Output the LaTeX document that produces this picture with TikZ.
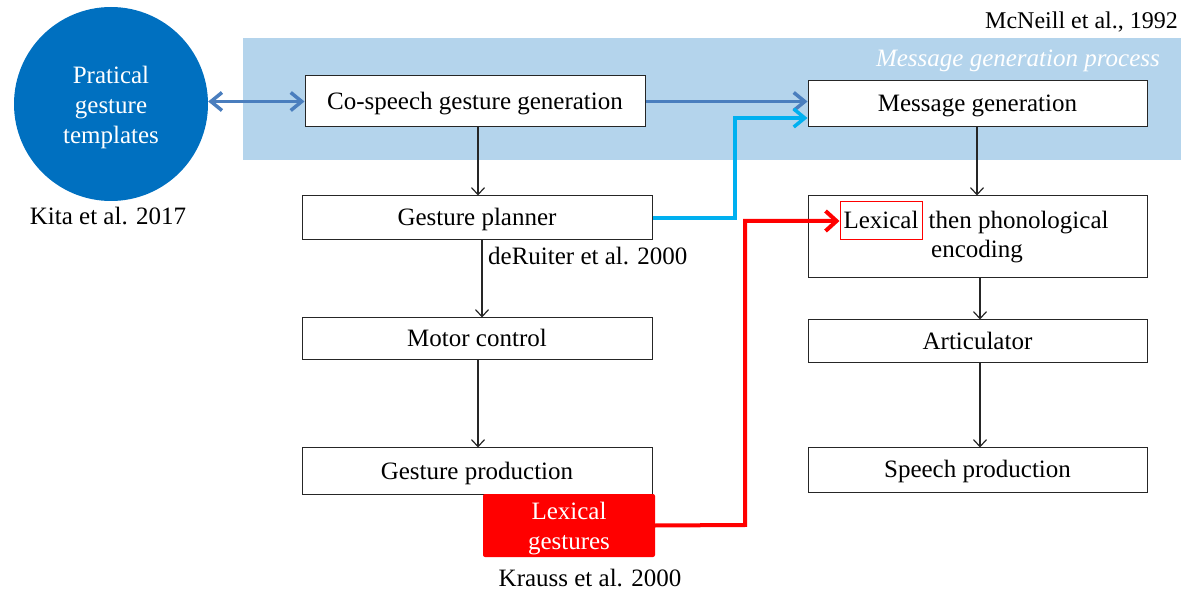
\documentclass[tikz,border=0pt]{standalone}
\usepackage{fontspec}
\setmainfont{Liberation Serif}
\usetikzlibrary{arrows.meta}
\definecolor{bgblue}{HTML}{B4D4EC}
\definecolor{circblue}{HTML}{0070C0}
\definecolor{arrblue}{HTML}{4A7EBE}
\definecolor{cyanarr}{HTML}{00B0F0}
\definecolor{redc}{HTML}{FF0000}
\begin{document}
\begin{tikzpicture}[x=1pt,y=-1pt,
  every node/.style={font=\fontsize{25}{30}\selectfont, inner sep=0pt},
  box/.style={draw=black!85, line width=1pt, fill=white, align=center, text height=17pt, text depth=1pt},
  blackarrow/.style={draw=black!85, line width=1.2pt, -{Straight Barb[length=7pt,width=13pt]}},
  bluearrow/.style={draw=arrblue, line width=3.5pt, -{Straight Barb[length=11pt,width=18pt]}},
  cyanarrow/.style={draw=cyanarr, line width=3.5pt, -{Straight Barb[length=11pt,width=18pt]}},
  redarrow/.style={draw=redc, line width=4pt, -{Straight Barb[length=11pt,width=20pt]}}
]
\useasboundingbox (0,0) rectangle (1189,593);
% background band
\fill[bgblue] (243,38) rectangle (1181,160);
\node[anchor=east, font=\fontsize{24}{28}\selectfont] (mcneill) at (1178,22) {McNeill et al., 1992};
\node[anchor=east, text=white, font=\fontsize{25}{30}\itshape] (mgp) at (1160,61) {Message generation process};

% circle
\node[circle, fill=circblue, minimum size=194pt] (circ) at (111,104) {};
\node[text=white, align=center] (circtext) at (111,107) {Pratical\\gesture\\templates};
\node (kita) at (108,216) {Kita et al. 2017};

% left column
\node[box, minimum width=340pt, minimum height=51pt] (cospeech) at (475,101.5) {Co-speech gesture generation};
\node[box, minimum width=350pt, minimum height=44pt] (planner) at (477,218) {Gesture planner};
\node[box, minimum width=350pt, minimum height=42pt] (motor) at (477,339) {Motor control};
\node[box, minimum width=350pt, minimum height=46pt] (gprod) at (477,471) {Gesture production};
\node[fill=redc, rounded corners=2pt, minimum width=172pt, minimum height=63pt] (lexges) at (569,525.5) {};
\node[text=white, align=center] (lexgestext) at (569,528.5) {Lexical\\gestures};
\node (krauss) at (590,578) {Krauss et al. 2000};
\node[anchor=west] (ruiter) at (488,256) {deRuiter et al. 2000};

% right column
\node[box, minimum width=339pt, minimum height=46pt] (msg) at (977.5,104) {Message generation};
\node[box, minimum width=339pt, minimum height=82pt] (lexenc) at (977.5,237) {};
\node[draw=redc, line width=1pt, minimum width=82pt, minimum height=38pt, text height=17pt, text depth=1pt] (lexword) at (881,221) {Lexical};
\node[anchor=base west] (thenphon) at ([xshift=6pt]lexword.base east) {then phonological};
\node (encoding) at (977,252) {encoding};
\node[box, minimum width=339pt, minimum height=43pt] (artic) at (977.5,341.5) {Articulator};
\node[box, minimum width=339pt, minimum height=44pt] (sprod) at (977.5,470) {Speech production};

% connectors
\draw[bluearrow, {Straight Barb[length=11pt,width=18pt]}-{Straight Barb[length=11pt,width=18pt]}] (cospeech.west -| circ.east) -- (cospeech.west);
\draw[bluearrow] (cospeech.east) -- (cospeech.east -| msg.west);
\draw[cyanarrow] (planner.east) -- (735,218) |- (msg.west |- 0,118);
\draw[redarrow] (lexges.east) -- (745,525) |- (lexword.west);

\draw[blackarrow] (cospeech.south -| 478,0) -- (planner.north -| 478,0);
\draw[blackarrow] (planner.south -| 482,0) -- (motor.north -| 482,0);
\draw[blackarrow] (motor.south -| 478,0) -- (gprod.north -| 478,0);
\draw[blackarrow] (msg.south -| 977,0) -- (lexenc.north -| 977,0);
\draw[blackarrow] (lexenc.south -| 980,0) -- (artic.north -| 980,0);
\draw[blackarrow] (artic.south -| 980,0) -- (sprod.north -| 980,0);
\end{tikzpicture}
\end{document}
